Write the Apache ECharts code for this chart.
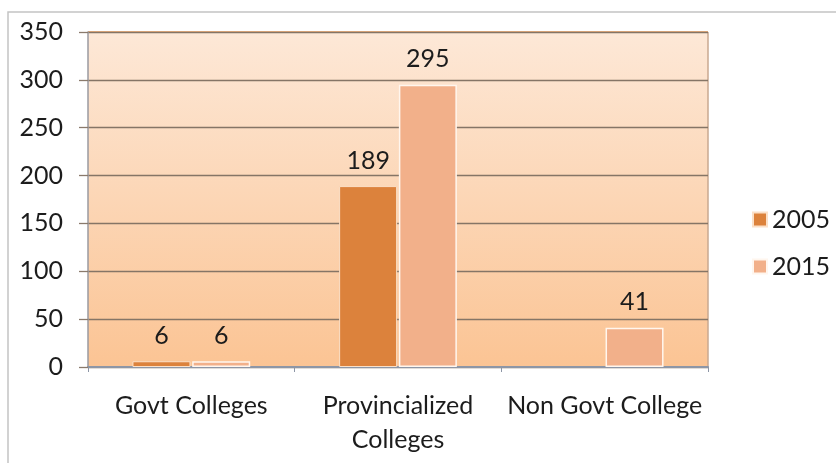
<!DOCTYPE html>
<html><head><meta charset="utf-8">
<script src="https://cdn.jsdelivr.net/npm/echarts@6/dist/echarts.min.js"></script>
<style>html,body{margin:0;padding:0;background:#fff}#c{width:836px;height:463px}</style>
</head><body><div id="c"></div>
<script>
const categories = ['Govt Colleges', 'Provincialized\nColleges', 'Non Govt College'];
const seriesNames = ['2005', '2015'];
const values2005 = [6, 189, null];
const values2015 = [6, 295, 41];
const yTicks = [0, 50, 100, 150, 200, 250, 300, 350];

const FONT = 'Lato';
const TXT = '#1c1c1c';
const chart = echarts.init(document.getElementById('c'));
const labelStyle = {show: true, position: 'top', distance: 13, color: TXT, fontSize: 25, fontFamily: FONT};
chart.setOption({
  animation: false,
  backgroundColor: '#fff',
  grid: {left: 88, right: 128, top: 32, bottom: 96, show: true, borderWidth: 0,
    backgroundColor: {type: 'linear', x: 0, y: 0, x2: 0, y2: 1, colorStops: [
      {offset: 0, color: '#fde8d7'}, {offset: 1, color: '#fbc494'}]}},
  legend: {orient: 'vertical', left: 747, top: 202, itemWidth: 14, itemHeight: 14, itemGap: 22,
    icon: 'rect', textStyle: {fontSize: 25, fontFamily: FONT, color: TXT}, data: seriesNames},
  xAxis: {type: 'category', data: categories,
    axisLine: {lineStyle: {color: '#8d96a6', width: 2}},
    axisTick: {show: true, lineStyle: {color: '#8d96a6'}, length: 5},
    axisLabel: {fontSize: 25, fontFamily: FONT, color: TXT, margin: 22, lineHeight: 34, interval: 0}},
  yAxis: {type: 'value', min: yTicks[0], max: yTicks[yTicks.length - 1], interval: 50,
    axisLine: {show: true, lineStyle: {color: '#9a9aa0', width: 1.5}},
    axisTick: {show: true, length: 9, inside: false, lineStyle: {color: '#8a7a6c', width: 1.3}},
    splitLine: {lineStyle: {color: '#857566', width: 1.3}},
    axisLabel: {fontSize: 25, fontFamily: FONT, color: TXT, margin: 25}},
  series: [
    {name: seriesNames[0], type: 'bar', data: values2005, barWidth: 58, barGap: '3%',
      itemStyle: {color: '#dc823c', borderColor: '#fbe0c8', borderWidth: 1}, label: labelStyle},
    {name: seriesNames[1], type: 'bar', data: values2015, barWidth: 58,
      itemStyle: {color: '#f2b08a', borderColor: '#fff6ee', borderWidth: 1.5}, label: labelStyle}
  ],
  graphic: [
    {type: 'polyline', shape: {points: [[8, 463], [8, 12], [836, 12]]}, style: {stroke: '#c4c4c4', lineWidth: 1.5, fill: null}},
    {type: 'line', shape: {x1: 88, y1: 32, x2: 708, y2: 32}, style: {stroke: '#f0b27e', lineWidth: 2}},
    {type: 'line', shape: {x1: 708, y1: 32, x2: 708, y2: 367}, style: {stroke: '#c8a890', lineWidth: 1.5}}
  ]
});
</script></body></html>
